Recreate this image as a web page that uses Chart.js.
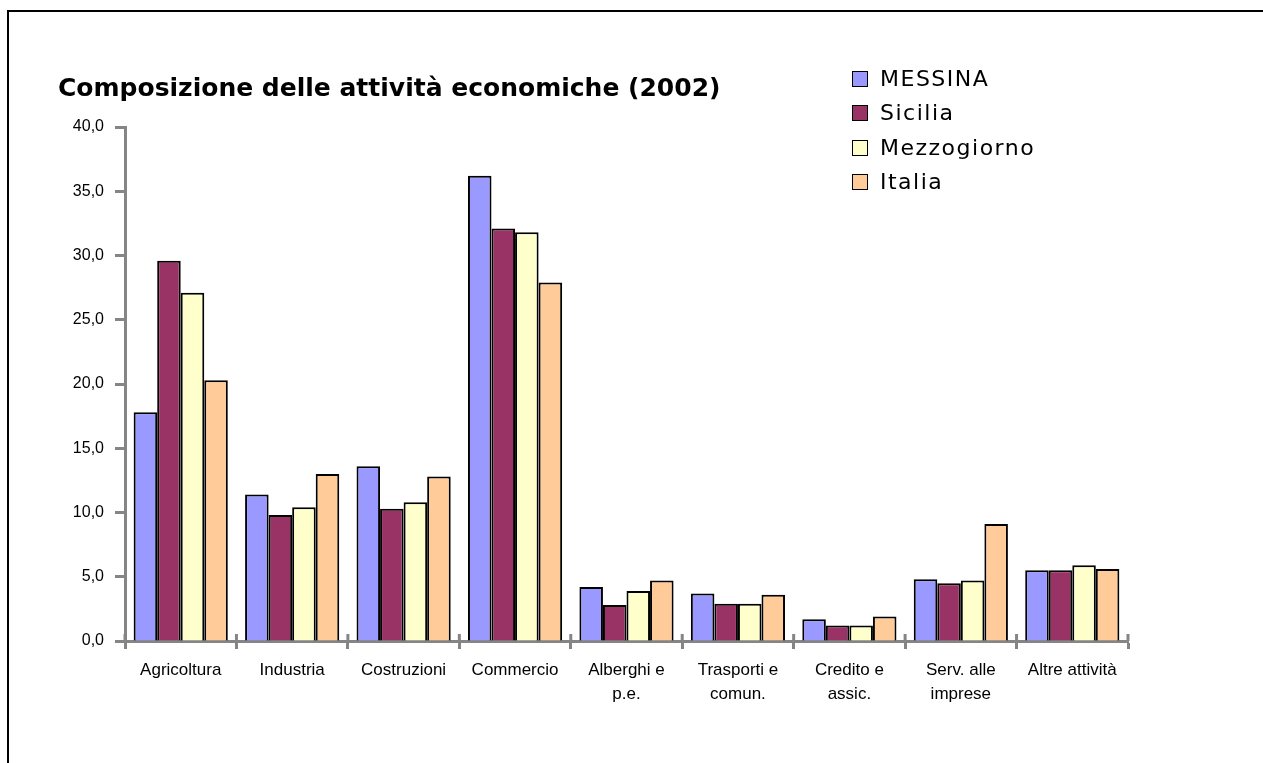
<!DOCTYPE html>
<html lang="it">
<head>
<meta charset="utf-8">
<title>Composizione delle attività economiche (2002)</title>
<script src="https://cdn.jsdelivr.net/npm/chart.js@4/dist/chart.umd.min.js"></script>
<style>
    html, body { margin: 0; padding: 0; background: #fff; overflow: hidden; }
    #wrap { position: relative; width: 1263px; height: 763px; }
    #frame {
        position: absolute; left: 7px; top: 10px; width: 1300px; height: 800px;
        border-left: 2px solid #000; border-top: 2px solid #000;
    }
    #chart { position: absolute; left: 0; top: 0; }
    #legend {
        position: absolute; left: 852px; top: 62px; margin: 0; padding: 0; list-style: none;
        font-family: "DejaVu Sans", sans-serif; font-size: 22px; letter-spacing: 1.5px; color: #000;
    }
    #legend li { height: 34.3px; line-height: 34px; white-space: nowrap; }
    #legend .box {
        display: inline-block; width: 14px; height: 14px; border: 1.5px solid #000;
        margin-right: 12px; vertical-align: -1px;
    }
</style>
</head>
<body>
<div id="wrap">
    <div id="frame"></div>
    <canvas id="chart" width="1263" height="763"></canvas>
    <ul id="legend"></ul>
</div>
<script>
// categories on the x axis (multi-line labels as arrays)
const categories = [
    'Agricoltura', 'Industria', 'Costruzioni', 'Commercio',
    ['Alberghi e', 'p.e.'], ['Trasporti e', 'comun.'], ['Credito e', 'assic.'],
    ['Serv. alle', 'imprese'], 'Altre attività'
];

// share of local units by sector, %
const messina     = [17.8, 11.4, 13.6, 36.2, 4.2, 3.7, 1.7, 4.8, 5.5];
const sicilia     = [29.6,  9.8, 10.3, 32.1, 2.8, 2.9, 1.2, 4.5, 5.5];
const mezzogiorno = [27.1, 10.4, 10.8, 31.8, 3.9, 2.9, 1.2, 4.7, 5.9];
const italia      = [20.3, 13.0, 12.8, 27.9, 4.7, 3.6, 1.9, 9.1, 5.6];

const seriesNames = ['MESSINA', 'Sicilia', 'Mezzogiorno', 'Italia'];
const seriesValues = [messina, sicilia, mezzogiorno, italia];
const seriesColors = ['#9999ff', '#993366', '#ffffcc', '#ffcc99'];

// y axis range
const yMin = 0, yMax = 40, yStep = 5;

const axisGrey = '#858585';
const labelFamily = '"Liberation Sans", Arial, sans-serif';

const datasets = seriesNames.map((name, i) => ({
    label: name,
    data: seriesValues[i],
    backgroundColor: seriesColors[i],
    borderColor: '#000',
    borderWidth: 2,
    borderSkipped: 'bottom',
    categoryPercentage: 0.845,
    barPercentage: 1.0
}));

// small tick stubs crossing the x axis above the baseline
const crossTicks = {
    id: 'crossTicks',
    afterDatasetsDraw(chart) {
        const x = chart.scales.x;
        const ctx = chart.ctx;
        const half = (x.getPixelForValue(1) - x.getPixelForValue(0)) / 2;
        ctx.save();
        ctx.strokeStyle = axisGrey;
        ctx.lineWidth = 3;
        ctx.beginPath();
        for (let i = 0; i <= categories.length; i++) {
            const px = x.getPixelForValue(i) - half;
            ctx.moveTo(px, x.top - 7);
            ctx.lineTo(px, x.top);
        }
        ctx.stroke();
        ctx.restore();
    }
};

new Chart(document.getElementById('chart'), {
    type: 'bar',
    data: { labels: categories, datasets: datasets },
    options: {
        responsive: false,
        animation: false,
        layout: { padding: { left: 58, right: 135, top: 0, bottom: 0 } },
        plugins: {
            legend: { display: false },
            tooltip: { enabled: false },
            title: {
                display: true,
                text: 'Composizione delle attività economiche (2002)',
                align: 'start',
                color: '#000',
                font: { family: '"DejaVu Sans", sans-serif', size: 25, weight: 'bold', lineHeight: 1.2 },
                padding: { top: 74, bottom: 23 }
            }
        },
        scales: {
            x: {
                grid: {
                    offset: true,
                    drawOnChartArea: false,
                    drawTicks: true,
                    tickLength: 8,
                    tickWidth: 3,
                    tickColor: axisGrey
                },
                border: { color: axisGrey, width: 3 },
                ticks: {
                    color: '#000',
                    font: { family: labelFamily, size: 17, lineHeight: 1.38 },
                    padding: 10,
                    maxRotation: 0,
                    autoSkip: false
                },
                afterFit(scale) { scale.height = 122; }
            },
            y: {
                min: yMin,
                max: yMax,
                grid: {
                    drawOnChartArea: false,
                    drawTicks: true,
                    tickLength: 10,
                    tickWidth: 3,
                    tickColor: axisGrey
                },
                border: { color: axisGrey, width: 3 },
                ticks: {
                    stepSize: yStep,
                    color: '#000',
                    font: { family: labelFamily, size: 16 },
                    padding: 11,
                    callback: v => v.toFixed(1).replace('.', ',')
                },
                afterFit(scale) { scale.width = 67; }
            }
        }
    },
    plugins: [crossTicks]
});

// legend list, one row per series
const legend = document.getElementById('legend');
seriesNames.forEach((name, i) => {
    const li = document.createElement('li');
    li.innerHTML = `<span class="box" style="background:${seriesColors[i]}"></span>${name}`;
    legend.appendChild(li);
});
</script>
</body>
</html>
